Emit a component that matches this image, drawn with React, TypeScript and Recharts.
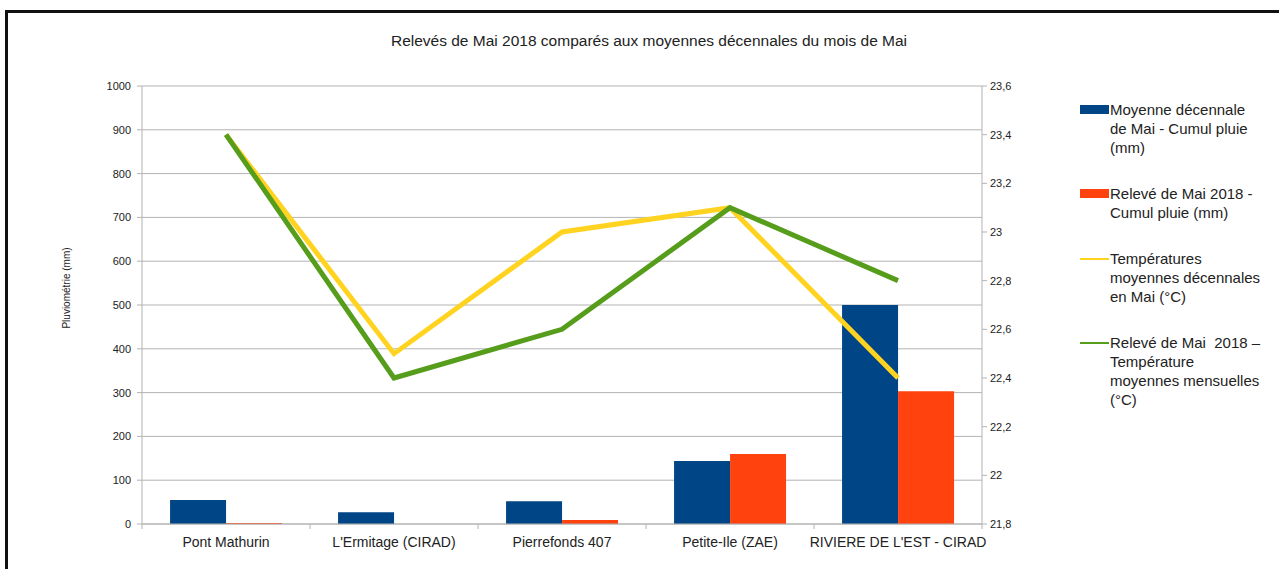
import React from "react";
import {
  ComposedChart,
  Bar,
  Line,
  XAxis,
  YAxis,
  CartesianGrid,
} from "recharts";

const categories = [
  "Pont Mathurin",
  "L'Ermitage (CIRAD)",
  "Pierrefonds 407",
  "Petite-Ile (ZAE)",
  "RIVIERE DE L'EST - CIRAD",
];
const rainDecennial = [55, 27, 52, 144, 500];
const rain2018 = [2, 0, 9, 160, 303];
const tempDecennial = [23.4, 22.5, 23.0, 23.1, 22.4];
const temp2018 = [23.4, 22.4, 22.6, 23.1, 22.8];

const leftTicks = [0, 100, 200, 300, 400, 500, 600, 700, 800, 900, 1000];
const rightTicks = [21.8, 22, 22.2, 22.4, 22.6, 22.8, 23, 23.2, 23.4, 23.6];

const seriesNames = {
  rainDec: "Moyenne décennale de Mai - Cumul pluie (mm)",
  rain18: "Relevé de Mai 2018 - Cumul pluie (mm)",
  tempDec: "Températures moyennes décennales en Mai (°C)",
  temp18: "Relevé de Mai  2018 – Température moyennes mensuelles (°C)",
};

const legendItems = [
  { key: "rainDec", color: "#004586", kind: "bar", lines: ["Moyenne décennale", "de Mai - Cumul pluie", "(mm)"] },
  { key: "rain18", color: "#ff420e", kind: "bar", lines: ["Relevé de Mai 2018 -", "Cumul pluie (mm)"] },
  { key: "tempDec", color: "#ffd320", kind: "line", lines: ["Températures", "moyennes décennales", "en Mai (°C)"] },
  { key: "temp18", color: "#579d1c", kind: "line", lines: ["Relevé de Mai  2018 –", "Température", "moyennes mensuelles", "(°C)"] },
];

const data = categories.map((c, i) => ({
  name: c,
  rainDec: rainDecennial[i],
  rain18: rain2018[i],
  tempDec: tempDecennial[i],
  temp18: temp2018[i],
}));

const FONT = "'Liberation Sans', Arial, sans-serif";

const XTick = (props: any) => {
  const { x, y, payload } = props;
  const half = payload && payload.offset ? payload.offset : 84;
  return (
    <g>
      <line x1={x - half} y1={y - 8} x2={x - half} y2={y - 3} stroke="#b3b3b3" />
      {payload.index === categories.length - 1 ? (
        <line x1={x + half} y1={y - 8} x2={x + half} y2={y - 3} stroke="#b3b3b3" />
      ) : null}
      <text
        x={x}
        y={y + 15}
        textAnchor="middle"
        fontFamily={FONT}
        fontSize={14}
        fill="#222"
      >
        {payload.value}
      </text>
    </g>
  );
};

const LegendBox = () => (
  <div
    style={{
      position: "absolute",
      left: 1078,
      top: 100,
      fontFamily: FONT,
      fontSize: 15,
      color: "#222",
      lineHeight: "19px",
    }}
  >
    {legendItems.map((it) => (
      <div
        key={it.key}
        style={{ display: "flex", alignItems: "flex-start", marginBottom: 27 }}
      >
        <div style={{ width: 32, height: 19, position: "relative", flexShrink: 0 }}>
          {it.kind === "bar" ? (
            <div
              style={{
                position: "absolute",
                left: 2,
                top: 5,
                width: 29,
                height: 9,
                background: it.color,
              }}
            />
          ) : (
            <div
              style={{
                position: "absolute",
                left: 2,
                top: 9,
                width: 29,
                height: 2,
                background: it.color,
              }}
            />
          )}
        </div>
        <div>
          {it.lines.map((l, j) => (
            <div key={j} style={{ whiteSpace: "pre" }}>
              {l}
            </div>
          ))}
        </div>
      </div>
    ))}
  </div>
);

export default function App() {
  return (
    <div
      style={{
        position: "absolute",
        left: 0,
        top: 0,
        width: 1279,
        height: 569,
        overflow: "hidden",
        background: "#fff",
        fontFamily: FONT,
      }}
    >
      <div
        style={{
          position: "absolute",
          left: 5,
          top: 10,
          width: 1300,
          height: 600,
          border: "3px solid #111",
          boxSizing: "border-box",
        }}
      />
      <div
        style={{
          position: "absolute",
          left: 0,
          width: 1298,
          top: 32,
          textAlign: "center",
          fontSize: 15.5,
          color: "#222",
        }}
      >
        Relevés de Mai 2018 comparés aux moyennes décennales du mois de Mai
      </div>
      <div
        style={{
          position: "absolute",
          left: 66,
          top: 288,
          transform: "translate(-50%, -50%) rotate(-90deg)",
          fontSize: 10,
          color: "#222",
          whiteSpace: "nowrap",
        }}
      >
        Pluviométrie (mm)
      </div>
      <div style={{ position: "absolute", left: 0, top: 0 }}>
        <ComposedChart
          width={1279}
          height={569}
          data={data}
          margin={{ top: 86, right: 237, bottom: 15, left: 82 }}
          barCategoryGap="16.7%"
          barGap={0}
        >
          <CartesianGrid vertical={false} stroke="#b3b3b3" yAxisId="left" />
          <XAxis
            dataKey="name"
            height={30}
            tick={<XTick />}
            tickLine={false}
            axisLine={{ stroke: "#b3b3b3" }}
            interval={0}
          />
          <YAxis
            yAxisId="left"
            domain={[0, 1000]}
            ticks={leftTicks}
            width={60}
            tickSize={5}
            tickMargin={6}
            axisLine={{ stroke: "#b3b3b3" }}
            tickLine={{ stroke: "#b3b3b3" }}
            tick={{ fontSize: 11, fill: "#222", fontFamily: FONT }}
            interval={0}
          />
          <YAxis
            yAxisId="right"
            orientation="right"
            domain={[21.8, 23.6]}
            ticks={rightTicks}
            width={60}
            tickSize={5}
            tickMargin={3}
            axisLine={{ stroke: "#b3b3b3" }}
            tickLine={{ stroke: "#b3b3b3" }}
            tick={{ fontSize: 11, fill: "#222", fontFamily: FONT }}
            tickFormatter={(v: number) => String(Math.round(v * 10) / 10).replace(".", ",")}
            interval={0}
            allowDataOverflow
          />
          <Bar
            yAxisId="left"
            dataKey="rainDec"
            name={seriesNames.rainDec}
            fill="#004586"
            isAnimationActive={false}
          />
          <Bar
            yAxisId="left"
            dataKey="rain18"
            name={seriesNames.rain18}
            fill="#ff420e"
            isAnimationActive={false}
          />
          <Line
            yAxisId="right"
            type="linear"
            dataKey="tempDec"
            name={seriesNames.tempDec}
            stroke="#ffd320"
            strokeWidth={5}
            dot={false}
            activeDot={false}
            isAnimationActive={false}
          />
          <Line
            yAxisId="right"
            type="linear"
            dataKey="temp18"
            name={seriesNames.temp18}
            stroke="#579d1c"
            strokeWidth={5}
            dot={false}
            activeDot={false}
            isAnimationActive={false}
          />
        </ComposedChart>
      </div>
      <LegendBox />
    </div>
  );
}
